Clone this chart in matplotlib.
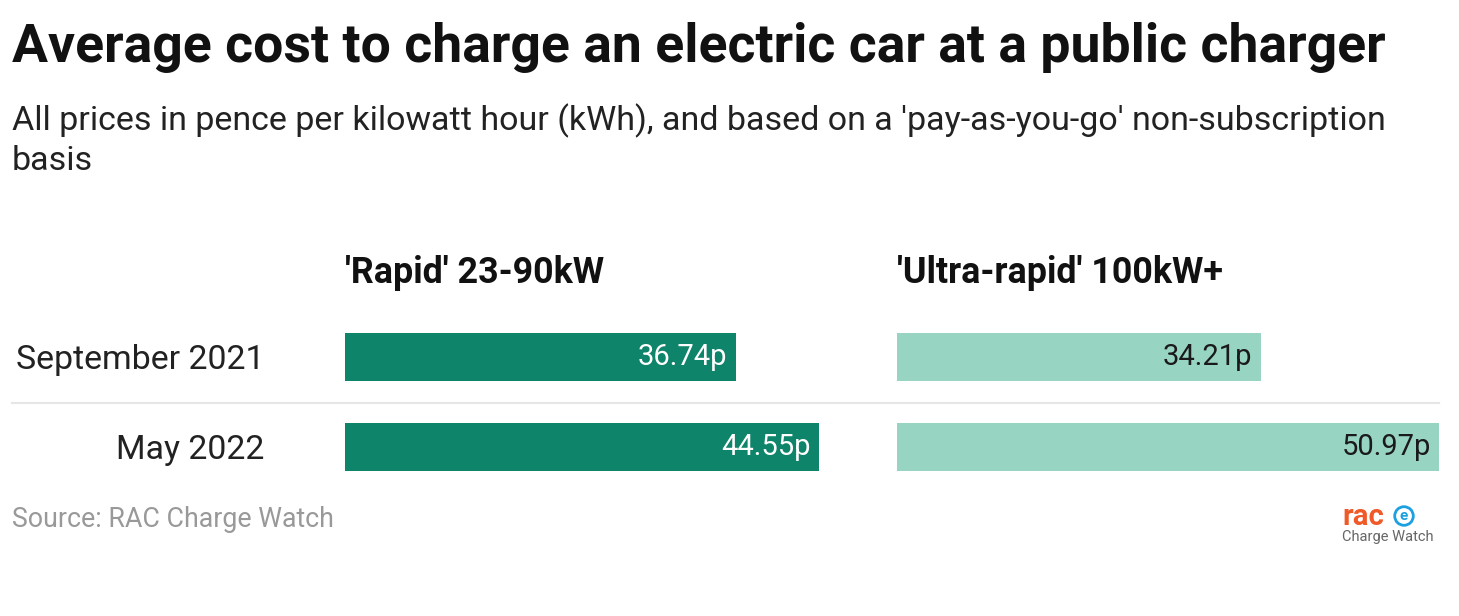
import matplotlib.pyplot as plt
from matplotlib.lines import Line2D

plt.rcParams['font.family'] = ['Roboto', 'DejaVu Sans']

periods = ['September 2021', 'May 2022']
rapid = [36.74, 44.55]
ultra = [34.21, 50.97]
panel_titles = ["'Rapid' 23-90kW", "'Ultra-rapid' 100kW+"]

W, H = 1459, 616
fig = plt.figure(figsize=(W / 100, H / 100), dpi=100)

def fx(px):
    return px / W

def fy(py):
    return 1 - py / H

# title and subtitle
fig.text(fx(12), fy(62), 'Average cost to charge an electric car at a public charger',
         fontsize=38.5, fontweight='bold', color='#111111', va='baseline')
fig.text(fx(12), fy(130), "All prices in pence per kilowatt hour (kWh), and based on a 'pay-as-you-go' non-subscription",
         fontsize=24.5, color='#222222', va='baseline')
fig.text(fx(12), fy(170), 'basis', fontsize=24.5, color='#222222', va='baseline')

# two panels sharing the same scale
xmax = max(rapid + ultra)
panels = [(345, rapid, '#0e846a', 'white'), (897, ultra, '#97d4c2', '#1a1a1a')]
axes = []
for i, (left, vals, col, tcol) in enumerate(panels):
    ax = fig.add_axes([fx(left), fy(492), fx(542), 180 / H])
    ax.barh(range(len(vals)), vals, height=0.533, color=col)
    ax.set_xlim(0, xmax)
    ax.set_ylim(1.5, -0.5)
    for j, v in enumerate(vals):
        ax.annotate(f'{v:.2f}p', (v, j), xytext=(-6, 0), textcoords='offset points',
                    ha='right', va='center', fontsize=21, color=tcol)
    for s in ax.spines.values():
        s.set_visible(False)
    ax.set_xticks([])
    ax.set_yticks([])
    ax.patch.set_alpha(0)
    fig.text(fx(left), fy(283), panel_titles[i], fontsize=25.8, fontweight='bold',
             color='#111111', va='baseline')
    axes.append(ax)

axes[0].set_yticks(range(len(periods)))
axes[0].set_yticklabels(periods, fontsize=24.4, color='#222222')
axes[0].tick_params(axis='y', length=0, pad=58)

# separator between rows
fig.add_artist(Line2D([fx(12), fx(1439)], [fy(403), fy(403)], color='#e6e6e6', lw=1.5))

# footer
fig.text(fx(12), fy(527), 'Source: RAC Charge Watch', fontsize=19.3, color='#999999', va='baseline')
fig.text(fx(1342), fy(525), 'rac', fontsize=21, fontweight='bold', color='#f05a28', va='baseline')
fig.text(fx(1404), fy(516), 'e', fontsize=11, fontweight='bold', color='#1ca0e0', ha='center', va='center',
         bbox=dict(boxstyle='circle,pad=0.15', fc='white', ec='#1ca0e0', lw=2))
fig.text(fx(1342), fy(541), 'Charge Watch', fontsize=10.5, color='#666666', va='baseline')

fig.savefig('out.png', dpi=100, facecolor='white')
